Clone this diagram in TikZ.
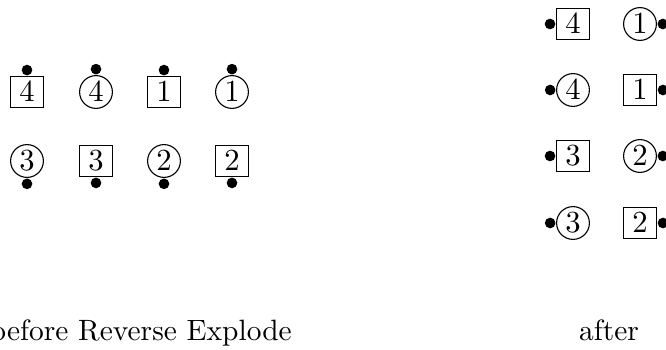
\documentclass[tikz,border=0pt]{standalone}
\usetikzlibrary{positioning}

\begin{document}
\begin{tikzpicture}[
    x=0.357pt, y=-0.357pt,
    sq/.style={draw, inner sep=2pt, minimum width=11.8pt, font=\fontsize{11.2}{13}\selectfont},
    cir/.style={draw, circle, inner sep=1pt, font=\fontsize{11.2}{13}\selectfont},
    dot/.style={circle, fill, inner sep=0pt, minimum size=3.8pt},
    lbl/.style={font=\fontsize{10.5}{12}\selectfont}
]
    \useasboundingbox (0,0) rectangle (666,350);

    % before
    \node[sq]  (b4s) at (27,92)  {$4$};
    \node[cir] (b4c) at (96,92)  {$4$};
    \node[sq]  (b1s) at (164,92) {$1$};
    \node[cir] (b1c) at (232,92) {$1$};
    \node[cir] (b3c) at (27,161)  {$3$};
    \node[sq]  (b3s) at (96,161)  {$3$};
    \node[cir] (b2c) at (164,161) {$2$};
    \node[sq]  (b2s) at (232,161) {$2$};

    \node[dot, above=0pt of b4s] {};
    \node[dot, above=0pt of b4c] {};
    \node[dot, above=0pt of b1s] {};
    \node[dot, above=0pt of b1c] {};
    \node[dot, below=0pt of b3c] {};
    \node[dot, below=0pt of b3s] {};
    \node[dot, below=0pt of b2c] {};
    \node[dot, below=0pt of b2s] {};

    % after
    \node[sq]  (a4s) at (573,24)  {$4$};
    \node[cir] (a4c) at (573,90)  {$4$};
    \node[sq]  (a3s) at (573,156) {$3$};
    \node[cir] (a3c) at (573,223) {$3$};
    \node[cir] (a1c) at (640,24)  {$1$};
    \node[sq]  (a1s) at (640,90)  {$1$};
    \node[cir] (a2c) at (640,156) {$2$};
    \node[sq]  (a2s) at (640,223) {$2$};

    \node[dot, left=0pt of a4s] {};
    \node[dot, left=0pt of a4c] {};
    \node[dot, left=0pt of a3s] {};
    \node[dot, left=0pt of a3c] {};
    \node[dot, right=0pt of a1c] {};
    \node[dot, right=0pt of a1s] {};
    \node[dot, right=0pt of a2c] {};
    \node[dot, right=0pt of a2s] {};

    % Labels
    \node[lbl, anchor=base west] (bef) at (-20,340) {before Reverse Explode};
    \node[lbl, anchor=base] (aft) at (609,340) {after};
\end{tikzpicture}
\end{document}
